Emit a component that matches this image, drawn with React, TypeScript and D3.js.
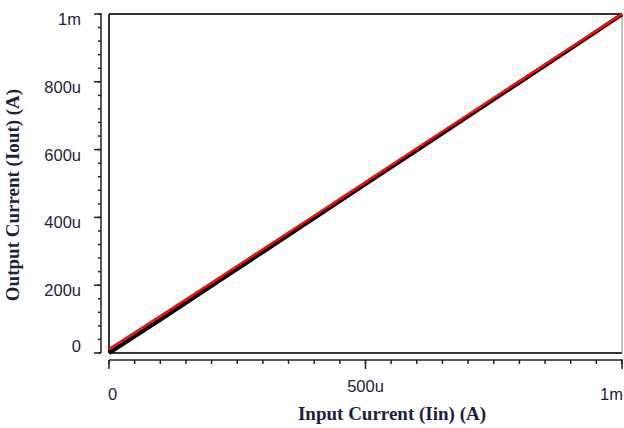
import * as d3 from "d3";

// values in amperes
const inputCurrent = [0, 100e-6, 200e-6, 300e-6, 400e-6, 500e-6, 600e-6, 700e-6, 800e-6, 900e-6, 1e-3];
const outputSimulated = [0, 98e-6, 198e-6, 298e-6, 398e-6, 498e-6, 598e-6, 698e-6, 798e-6, 898e-6, 999e-6];
const outputIdeal = [12e-6, 109e-6, 207e-6, 306e-6, 405e-6, 504e-6, 604e-6, 703e-6, 802e-6, 901e-6, 1e-3];

const yTicks = [0, 200e-6, 400e-6, 600e-6, 800e-6, 1e-3];
const yTickLabels = ["0", "200u", "400u", "600u", "800u", "1m"];
const xTicks = [0, 500e-6, 1e-3];
const xTickLabels = ["0", "500u", "1m"];

const W = 624;
const H = 428;
const box = { left: 109, right: 622, top: 14, bottom: 353 };
const yAxisX = 101;
const xAxisY = 360;
const ink = "#1e1e40";

export default function App() {
  const x = d3.scaleLinear().domain([0, 1e-3]).range([box.left, box.right]);
  const y = d3.scaleLinear().domain([0, 1e-3]).range([box.bottom, box.top]);

  const line = d3
    .line<number>()
    .x((_, i) => x(inputCurrent[i]))
    .y((d) => y(d));

  const yMinor = d3.range(0, 1e-3 + 1e-9, 40e-6);
  const xMinor = d3.range(0, 1e-3 + 1e-9, 50e-6);

  return (
    <svg
      width={W}
      height={H}
      style={{ position: "absolute", left: 0, top: 0, background: "#fff" }}
    >
      {/* plot frame */}
      <line x1={box.left} x2={box.right} y1={box.top} y2={box.top} stroke="#333" strokeWidth={2} />
      <line x1={box.left} x2={box.left} y1={box.top} y2={box.bottom} stroke="#333" strokeWidth={2} />
      <line x1={box.left} x2={box.right} y1={box.bottom} y2={box.bottom} stroke="#333" strokeWidth={2} />
      <line x1={box.right} x2={box.right} y1={box.top} y2={box.bottom} stroke="#888" strokeWidth={1} />

      {/* y axis */}
      <line x1={yAxisX} x2={yAxisX} y1={box.top - 1} y2={box.bottom} stroke="#222" strokeWidth={1.5} />
      {yMinor.map((v, i) => (
        <line key={"ym" + i} x1={yAxisX - 3} x2={yAxisX} y1={y(v)} y2={y(v)} stroke="#222" strokeWidth={1.5} />
      ))}
      {yTicks.map((v, i) => (
        <g key={"yt" + i}>
          <line x1={yAxisX - 7} x2={yAxisX} y1={y(v)} y2={y(v)} stroke="#222" strokeWidth={1.5} />
          <text
            x={81}
            y={Math.min(y(v) + 11, 352)}
            textAnchor="end"
            fontFamily="Arial, 'Liberation Sans', sans-serif"
            fontSize={16.5}
            fill={ink}
          >
            {yTickLabels[i]}
          </text>
        </g>
      ))}

      {/* x axis */}
      <line x1={box.left} x2={box.right + 1} y1={xAxisY} y2={xAxisY} stroke="#222" strokeWidth={1.5} />
      {xMinor.map((v, i) => (
        <line key={"xm" + i} x1={x(v)} x2={x(v)} y1={xAxisY} y2={xAxisY + 4} stroke="#222" strokeWidth={1.5} />
      ))}
      {xTicks.map((v, i) => (
        <g key={"xt" + i}>
          <line x1={x(v)} x2={x(v)} y1={xAxisY} y2={xAxisY + 9} stroke="#222" strokeWidth={1.5} />
          <text
            x={i === 0 ? x(v) - 1 : i === xTicks.length - 1 ? x(v) + 1 : x(v)}
            y={i === 0 || i === xTicks.length - 1 ? 400 : 392}
            textAnchor={i === 0 ? "start" : i === xTicks.length - 1 ? "end" : "middle"}
            fontFamily="Arial, 'Liberation Sans', sans-serif"
            fontSize={16.5}
            fill={ink}
          >
            {xTickLabels[i]}
          </text>
        </g>
      ))}

      {/* series */}
      <path d={line(outputSimulated) ?? ""} fill="none" stroke="#000" strokeWidth={4} />
      <path d={line(outputIdeal) ?? ""} fill="none" stroke="#ff0a0a" strokeWidth={2.5} />

      {/* axis titles */}
      <text
        x={392}
        y={420}
        textAnchor="middle"
        fontFamily="'Liberation Serif', 'Times New Roman', serif"
        fontWeight="bold"
        fontSize={19}
        fill={ink}
      >
        Input Current (Iin) (A)
      </text>
      <text
        transform="translate(19,195) rotate(-90)"
        textAnchor="middle"
        fontFamily="'Liberation Serif', 'Times New Roman', serif"
        fontWeight="bold"
        fontSize={19}
        fill={ink}
      >
        Output Current (Iout) (A)
      </text>
    </svg>
  );
}
